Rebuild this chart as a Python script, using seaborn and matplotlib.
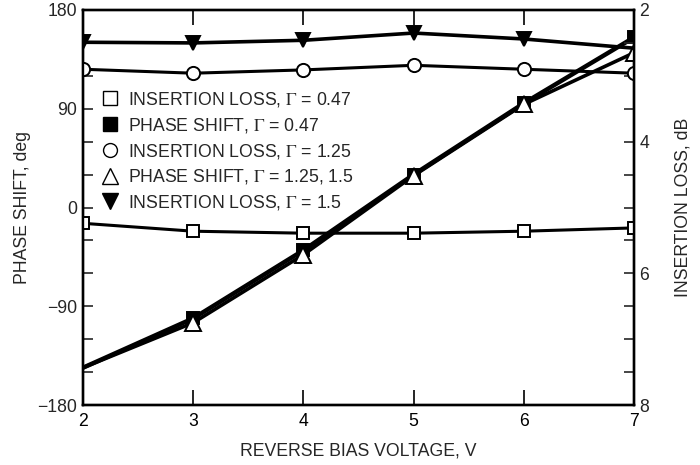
import matplotlib
matplotlib.use("Agg")
import matplotlib.pyplot as plt
from matplotlib.lines import Line2D
from matplotlib.ticker import MultipleLocator
import seaborn as sns
import pandas as pd

# ---- data ----
voltage = [2, 3, 4, 5, 6, 7]
il_047 = [5.24, 5.36, 5.39, 5.39, 5.36, 5.31]          # insertion loss, dB
il_125 = [2.90, 2.96, 2.91, 2.84, 2.90, 2.96]
il_150 = [2.49, 2.50, 2.46, 2.35, 2.44, 2.58]
ps_047 = [-146, -101, -39, 30, 95, 155]                 # phase shift, deg
ps_125_15 = [-146, -105, -43, 29, 94, 141]

labels = ["INSERTION LOSS, $\\Gamma$ = 0.47",
          "PHASE SHIFT, $\\Gamma$ = 0.47",
          "INSERTION LOSS, $\\Gamma$ = 1.25",
          "PHASE SHIFT, $\\Gamma$ = 1.25, 1.5",
          "INSERTION LOSS, $\\Gamma$ = 1.5"]

sns.set_theme(style="white")
plt.rcParams['font.family'] = ['Liberation Sans', 'DejaVu Sans']
plt.rcParams['mathtext.fontset'] = 'stix'
plt.rcParams['mathtext.rm'] = 'Liberation Serif'

fig = plt.figure(figsize=(7, 4.65), dpi=100)
ax = fig.add_axes([0.1186, 0.129, 0.7871, 0.8495])
ax2 = ax.twinx()

k = dict(color='black', markeredgecolor='black', markeredgewidth=1.4)

# phase shift (left axis)
sns.lineplot(x=voltage, y=ps_047, ax=ax, lw=3.2, marker='s', markersize=8,
             markerfacecolor='black', markevery=[1, 2, 3, 4, 5], zorder=3, **k)
sns.lineplot(x=voltage, y=ps_125_15, ax=ax, lw=2.6, marker='^', markersize=11,
             markerfacecolor='white', markevery=[1, 2, 3, 4, 5], zorder=4, **k)

# insertion loss (right axis)
sns.lineplot(x=voltage, y=il_047, ax=ax2, lw=2.2, marker='s', markersize=9,
             markerfacecolor='white', **k)
sns.lineplot(x=voltage, y=il_125, ax=ax2, lw=2.2, marker='o', markersize=9.5,
             markerfacecolor='white', **k)
sns.lineplot(x=voltage, y=il_150, ax=ax2, lw=2.6, marker='v', markersize=10,
             markerfacecolor='black', markevery=[0, 1, 2, 3, 4], **k)

ax.set_xlim(2, 7)
ax.set_ylim(-180, 180)
ax.set_yticks([-180, -90, 0, 90, 180])
ax.set_yticklabels(['\u2212180', '\u221290', '0', '90', '180'])
ax.yaxis.set_minor_locator(MultipleLocator(30))
ax.set_xticks(voltage)
ax2.set_ylim(8, 2)
ax2.set_yticks([2, 4, 6, 8])
ax2.yaxis.set_minor_locator(MultipleLocator(0.5))

fs = 12.7
ax.set_xlabel("REVERSE BIAS VOLTAGE, V", fontsize=fs, labelpad=9)
ax.set_ylabel("PHASE SHIFT, deg", fontsize=fs, labelpad=5)
ax2.set_ylabel("INSERTION LOSS, dB", fontsize=fs, labelpad=18)

ax.tick_params(axis='x', which='major', direction='in', length=11, width=1.2,
               top=True, bottom=True, labelsize=fs, pad=6, colors='black')
ax.tick_params(axis='y', which='both', direction='in', length=7, width=1.2,
               left=True, right=False, labelsize=fs, pad=4)
ax2.tick_params(axis='y', which='both', direction='in', length=7, width=1.2,
                right=True, left=False, labelsize=fs, pad=4)
for a in (ax, ax2):
    for s in a.spines.values():
        s.set_linewidth(1.7)
        s.set_color('black')
ax.grid(False)
ax2.grid(False)

handles = [
    Line2D([], [], linestyle='none', marker='s', markerfacecolor='white', markeredgecolor='black', markersize=10),
    Line2D([], [], linestyle='none', marker='s', markerfacecolor='black', markeredgecolor='black', markersize=10),
    Line2D([], [], linestyle='none', marker='o', markerfacecolor='white', markeredgecolor='black', markersize=10),
    Line2D([], [], linestyle='none', marker='^', markerfacecolor='white', markeredgecolor='black', markersize=11),
    Line2D([], [], linestyle='none', marker='v', markerfacecolor='black', markeredgecolor='black', markersize=11),
]
leg = ax2.legend(handles, labels, loc='upper left', bbox_to_anchor=(0.02, 0.815),
                 frameon=False, fontsize=fs, handlelength=1.0, handletextpad=0.5,
                 labelspacing=0.38, borderaxespad=0)
leg.set_zorder(10)

fig.savefig("out.png", dpi=100)
